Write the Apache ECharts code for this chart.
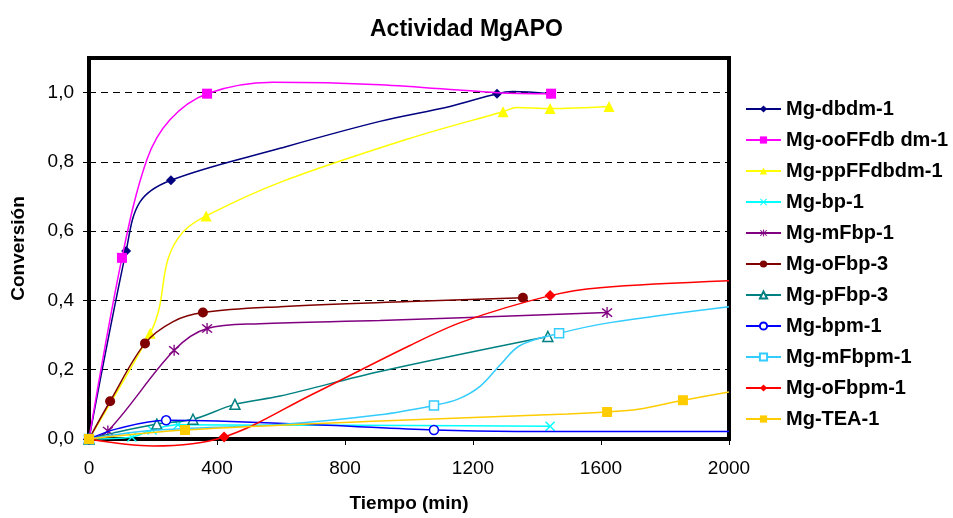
<!DOCTYPE html>
<html>
<head>
<meta charset="utf-8">
<script src="https://cdn.jsdelivr.net/npm/echarts@6/dist/echarts.min.js"></script>
<style>
  html, body { margin: 0; padding: 0; background: #fff; }
  #chart { width: 953px; height: 518px; }
</style>
</head>
<body>
<div id="chart"></div>
<script>
// Conversión vs. tiempo para los catalizadores MgAPO
const xTicks = [0, 400, 800, 1200, 1600, 2000];
const yTicks = [0, 0.2, 0.4, 0.6, 0.8, 1.0];

const names = [
  'Mg-dbdm-1', 'Mg-ooFFdb dm-1', 'Mg-ppFFdbdm-1', 'Mg-bp-1', 'Mg-mFbp-1',
  'Mg-oFbp-3', 'Mg-pFbp-3', 'Mg-bpm-1', 'Mg-mFbpm-1', 'Mg-oFbpm-1', 'Mg-TEA-1'
];

// [tiempo (min), conversión]
const dbdm1 = [[0, 0], [116, 0.543], [159, 0.684], [256, 0.747], [600, 0.84], [909, 0.917], [1128, 0.96], [1275, 0.997], [1325, 1.003], [1441, 0.997]];
const ooFFdbdm1 = [[0, 0], [103, 0.523], [181, 0.807], [253, 0.922], [369, 0.997], [575, 1.03], [909, 1.023], [1275, 1.0], [1444, 0.997]];
const ppFFdbdm1 = [[0, 0], [191, 0.305], [219, 0.376], [247, 0.52], [294, 0.598], [366, 0.644], [597, 0.741], [1003, 0.868], [1294, 0.945], [1337, 0.957], [1441, 0.954], [1625, 0.96]];
const bp1 = [[0, 0], [134, 0.006], [197, 0.026], [278, 0.041], [600, 0.04], [1000, 0.039], [1441, 0.037]];
const mFbp1 = [[0, 0], [59, 0.023], [266, 0.256], [369, 0.319], [534, 0.333], [909, 0.342], [1619, 0.365]];
const oFbp3 = [[0, 0], [66, 0.109], [175, 0.276], [263, 0.339], [356, 0.365], [597, 0.382], [1003, 0.397], [1356, 0.408]];
const pFbp3 = [[0, 0], [75, 0.017], [212, 0.043], [325, 0.057], [456, 0.1], [597, 0.124], [909, 0.195], [1434, 0.296]];
const bpm1 = [[0, 0], [90, 0.03], [241, 0.054], [400, 0.052], [744, 0.04], [1078, 0.026], [1337, 0.022], [2000, 0.022]];
const mFbpm1 = [[0, 0], [200, 0.025], [597, 0.042], [909, 0.07], [1078, 0.097], [1153, 0.115], [1222, 0.152], [1284, 0.213], [1347, 0.27], [1469, 0.305], [1628, 0.336], [2000, 0.382]];
const oFbpm1 = [[0, 0], [200, -0.02], [422, 0.006], [700, 0.13], [1003, 0.27], [1169, 0.339], [1441, 0.414], [1597, 0.437], [2000, 0.457]];
const TEA1 = [[0, 0], [300, 0.026], [909, 0.052], [1494, 0.072], [1619, 0.078], [1716, 0.086], [1856, 0.112], [2000, 0.136]];

// índices de los puntos medidos (con marcador) en cada serie
const measured = [
  [0, 1, 3, 7, 9],
  [0, 1, 4, 8],
  [0, 1, 5, 8, 10, 11],
  [0, 1, 2, 3, 6],
  [0, 1, 2, 3, 6],
  [0, 1, 2, 4, 7],
  [0, 2, 3, 4, 7],
  [0, 2, 5],
  [0, 4, 9],
  [0, 2, 6],
  [0, 1, 4, 6]
];

const seriesData = [dbdm1, ooFFdbdm1, ppFFdbdm1, bp1, mFbp1, oFbp3, pFbp3, bpm1, mFbpm1, oFbpm1, TEA1];

const colors = ['#000080', '#FF00FF', '#FFFF00', '#00FFFF', '#800080', '#800000', '#008080', '#0000FF', '#33CCFF', '#FF0000', '#FFCC00'];

const xMark = 'path://M0,1 L1,0 L5,4 L9,0 L10,1 L6,5 L10,9 L9,10 L5,6 L1,10 L0,9 L4,5 Z';
const starMark = 'path://M0,1 L1,0 L5,4 L9,0 L10,1 L6,5 L10,9 L9,10 L5,6 L1,10 L0,9 L4,5 Z M4.4,-1 L5.6,-1 L5.6,11 L4.4,11 Z';

const symbols = [
  { symbol: 'diamond', size: 10, hollow: false },
  { symbol: 'rect', size: 10, hollow: false },
  { symbol: 'triangle', size: 11, hollow: false },
  { symbol: xMark, size: 10, hollow: false },
  { symbol: starMark, size: 11, hollow: false },
  { symbol: 'circle', size: 10, hollow: false },
  { symbol: 'triangle', size: 10, hollow: true },
  { symbol: 'circle', size: 9, hollow: true },
  { symbol: 'rect', size: 9, hollow: true },
  { symbol: 'diamond', size: 11, hollow: false },
  { symbol: 'rect', size: 10, hollow: false }
];

const series = names.map((name, i) => {
  const marks = measured[i];
  const s = symbols[i];
  return {
    name: name,
    type: 'line',
    smooth: 0.35,
    clip: i !== 9,
    symbol: s.symbol,
    symbolSize: s.size,
    showAllSymbol: true,
    z: 10 + i,
    lineStyle: { color: colors[i], width: 1.5 },
    itemStyle: s.hollow
      ? { color: '#fff', borderColor: colors[i], borderWidth: 1.5 }
      : { color: colors[i], borderColor: colors[i], borderWidth: 0 },
    data: seriesData[i].map((p, k) => marks.includes(k)
      ? { value: p }
      : { value: p, symbol: 'none' })
  };
});

const fmtY = v => v.toFixed(1).replace('.', ',');
const fmtX = v => String(v);

const chart = echarts.init(document.getElementById('chart'), null, { renderer: 'canvas' });
chart.setOption({
  animation: false,
  backgroundColor: '#fff',
  color: colors,
  textStyle: { fontFamily: 'Liberation Sans, Arial, sans-serif' },
  title: {
    text: 'Actividad MgAPO',
    left: 365,
    top: 13,
    textStyle: { fontSize: 23, fontWeight: 'bold', color: '#000', fontFamily: 'Liberation Sans, Arial, sans-serif' }
  },
  legend: {
    orient: 'vertical',
    left: 740,
    top: 94,
    itemWidth: 35,
    itemHeight: 9,
    itemGap: 11,
    textStyle: { fontSize: 20, fontWeight: 'bold', color: '#000', lineHeight: 20, fontFamily: 'Liberation Sans, Arial, sans-serif' },
    data: names
  },
  grid: {
    left: 89, right: 224, top: 58, bottom: 77,
    show: true, borderColor: '#000', borderWidth: 4, backgroundColor: '#fff'
  },
  xAxis: {
    type: 'value',
    min: xTicks[0],
    max: xTicks[xTicks.length - 1],
    interval: 400,
    name: 'Tiempo (min)',
    nameLocation: 'middle',
    nameGap: 55,
    nameTextStyle: { fontSize: 19, fontWeight: 'bold', color: '#000' },
    axisLine: { show: true, lineStyle: { color: '#000', width: 4 } },
    axisTick: { show: true, inside: false, length: 6, lineStyle: { color: '#000', width: 1 } },
    axisLabel: { fontSize: 19, color: '#000', margin: 20, formatter: fmtX },
    splitLine: { show: false }
  },
  yAxis: {
    type: 'value',
    min: yTicks[0],
    max: 1.1,
    interval: 0.2,
    name: 'Conversión',
    nameLocation: 'middle',
    nameGap: 61,
    nameTextStyle: { fontSize: 19, fontWeight: 'bold', color: '#000' },
    axisLine: { show: true, lineStyle: { color: '#000', width: 4 } },
    axisTick: { show: true, inside: false, length: 6, lineStyle: { color: '#000', width: 1 } },
    axisLabel: { fontSize: 19, color: '#000', margin: 15, showMaxLabel: false, formatter: fmtY },
    splitLine: { show: true, lineStyle: { color: '#000', width: 1, type: [7, 5] } }
  },
  series: series
});
</script>
</body>
</html>
